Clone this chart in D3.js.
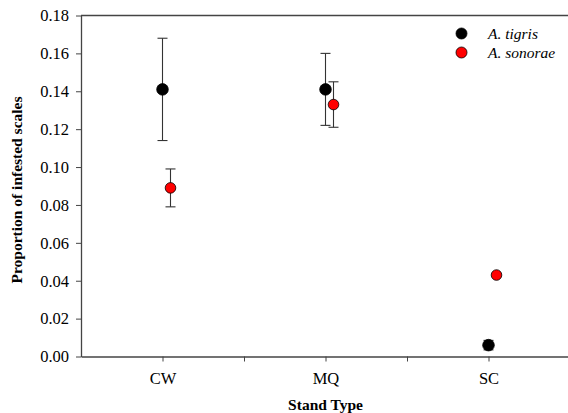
<!DOCTYPE html>
<html>
<head>
<meta charset="utf-8">
<script src="https://cdn.jsdelivr.net/npm/d3@7/dist/d3.min.js"></script>
<style>
  body { margin: 0; background: #fff; }
  text { font-family: "Liberation Serif", "Times New Roman", serif; fill: #000; }
</style>
</head>
<body>
<svg id="chart" width="568" height="413"></svg>
<script>
// stand types along x
var standTypes = ["CW", "MQ", "SC"];
var yTicks = [0, 0.02, 0.04, 0.06, 0.08, 0.10, 0.12, 0.14, 0.16, 0.18];

// means and standard errors
var tigrisMean = [0.141, 0.141, 0.006];
var tigrisErr = [0.027, 0.019, 0.0025];
var sonoraeMean = [0.089, 0.133, 0.043];
var sonoraeErr = [0.010, 0.012, 0];

var seriesNames = ["A. tigris", "A. sonorae"];
var seriesColors = ["#000000", "#ff0000"];

var svg = d3.select("#chart");
var plotL = 81, plotR = 570, plotT = 15.5, plotB = 356.5;

var x = d3.scaleLinear().domain([0.5, 3.5]).range([plotL, plotR]);
var y = d3.scaleLinear().domain([0, 0.18]).range([plotB, plotT]);

// Axes
var yAxis = d3.axisLeft(y).tickValues(yTicks).tickSize(5).tickSizeOuter(0).tickPadding(7)
  .tickFormat(d3.format(".2f"));
var gy = svg.append("g").attr("transform", "translate(" + plotL + ",0)").call(yAxis);

var xAxis = d3.axisBottom(x).tickValues([1, 1.5, 2, 2.5, 3]).tickSize(5).tickSizeOuter(0).tickPadding(11)
  .tickFormat(function(d) { return Number.isInteger(d) ? standTypes[d - 1] : ""; });
var gx = svg.append("g").attr("transform", "translate(0," + plotB + ")").call(xAxis);

[gx, gy].forEach(function(g) {
  g.attr("font-family", null);
  g.select(".domain").attr("stroke", "#444").attr("stroke-width", 1.3);
  g.selectAll(".tick line").attr("stroke", "#444");
  g.selectAll(".tick text").style("font-size", "16.5px").style("font-family", "Liberation Serif");
});

// top frame line
svg.append("line")
  .attr("x1", plotL).attr("x2", plotR)
  .attr("y1", plotT).attr("y2", plotT)
  .attr("stroke", "#444").attr("stroke-width", 1.3);

// Series data
var series = [
  { name: seriesNames[0], color: seriesColors[0], mean: tigrisMean, err: tigrisErr, dx: 0, r: 5.8 },
  { name: seriesNames[1], color: seriesColors[1], mean: sonoraeMean, err: sonoraeErr, dx: 8, r: 5.3 }
];

series.forEach(function(s) {
  var pts = s.mean.map(function(m, i) {
    return { cx: x(i + 1) + s.dx, m: m, e: s.err[i] };
  });
  var eb = svg.append("g").attr("stroke", "#333").attr("stroke-width", 1.1);
  pts.filter(function(d) { return d.e > 0; }).forEach(function(d) {
    eb.append("line").attr("x1", d.cx).attr("x2", d.cx)
      .attr("y1", y(d.m - d.e)).attr("y2", y(d.m + d.e));
    [d.m - d.e, d.m + d.e].forEach(function(v) {
      eb.append("line").attr("x1", d.cx - 5).attr("x2", d.cx + 5)
        .attr("y1", y(v)).attr("y2", y(v));
    });
  });
  svg.append("g").selectAll("circle").data(pts).enter().append("circle")
    .attr("cx", function(d) { return d.cx; })
    .attr("cy", function(d) { return y(d.m); })
    .attr("r", s.r)
    .attr("fill", s.color)
    .attr("stroke", "#000").attr("stroke-width", 0.8);
});

// Legend
var legend = svg.append("g");
series.forEach(function(s, i) {
  legend.append("circle").attr("cx", 461.5).attr("cy", 33.5 + i * 19)
    .attr("r", 5.5).attr("fill", s.color).attr("stroke", "#000").attr("stroke-width", 0.8);
  legend.append("text").attr("x", 488).attr("y", 38.5 + i * 19)
    .style("font-size", "15.5px").style("font-style", "italic")
    .text(s.name);
});

// Axis titles
svg.append("text")
  .attr("x", (plotL + 570) / 2).attr("y", 410)
  .attr("text-anchor", "middle")
  .style("font-size", "15.5px").style("font-weight", "bold")
  .text("Stand Type");

svg.append("text")
  .attr("transform", "translate(22," + ((plotT + plotB) / 2 + 4) + ") rotate(-90)")
  .attr("text-anchor", "middle")
  .style("font-size", "15.5px").style("font-weight", "bold")
  .text("Proportion of infested scales");
</script>
</body>
</html>
